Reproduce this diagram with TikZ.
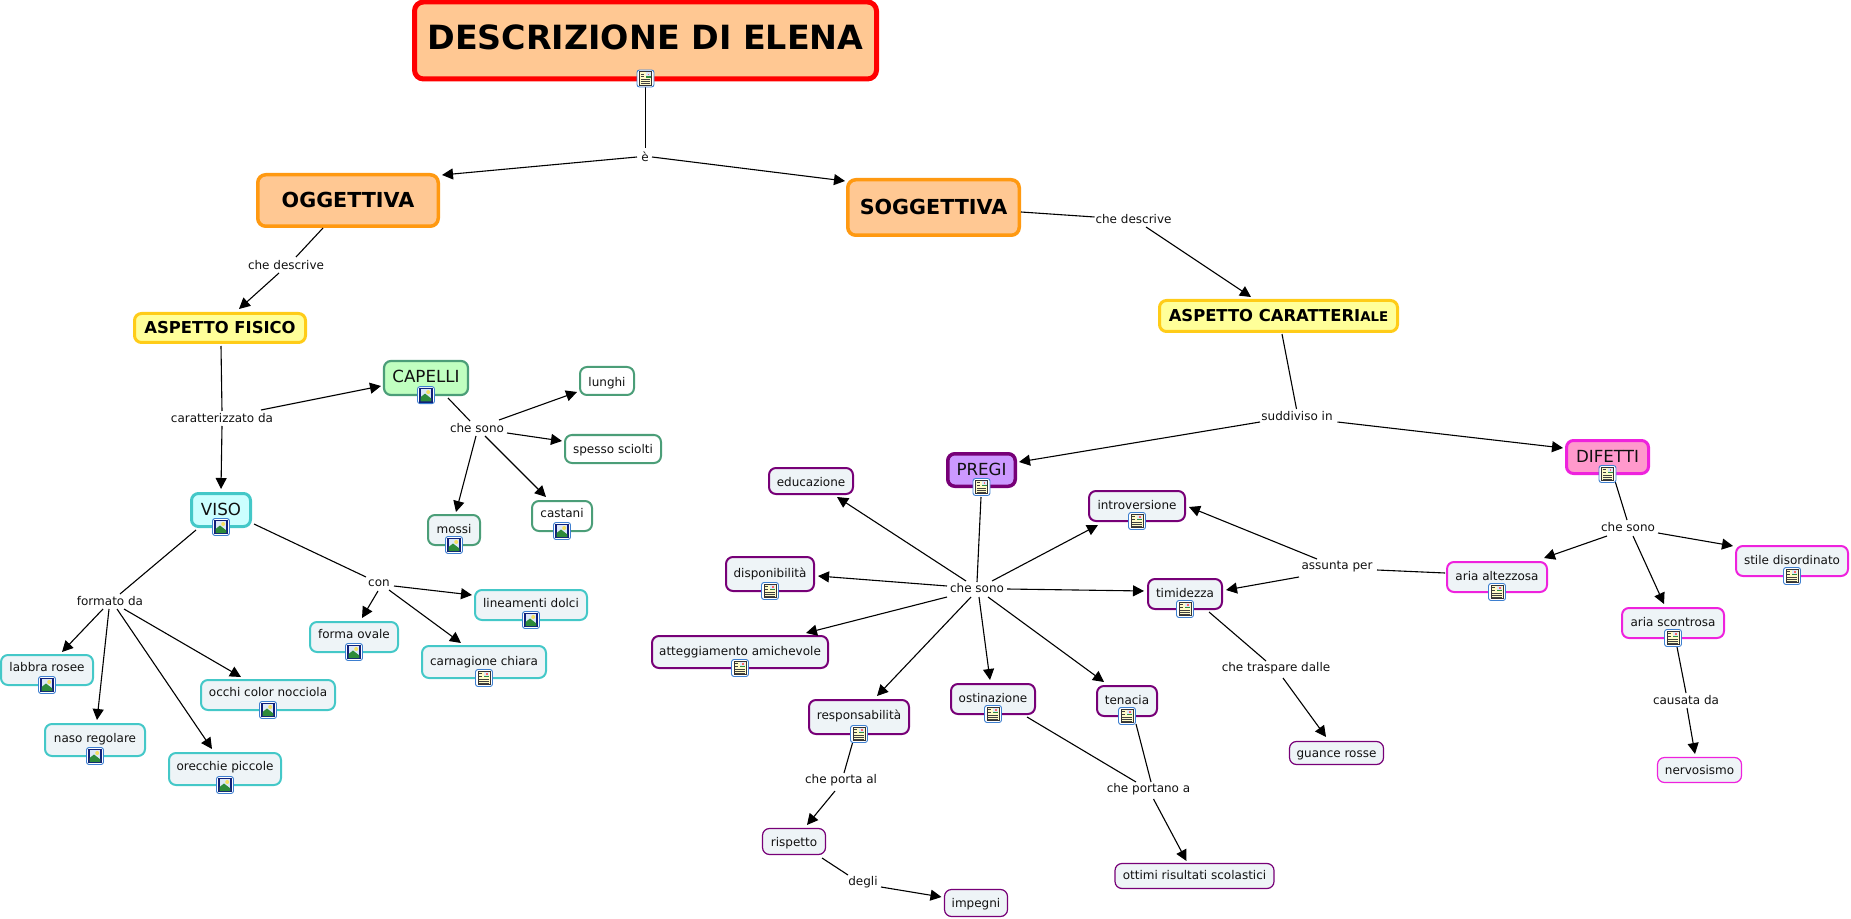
\documentclass[tikz,border=0pt]{standalone}
\usepackage{fontspec}
\setmainfont{DejaVu Sans}
\usetikzlibrary{arrows.meta}
\newdimen\px \px=.75pt
\definecolor{txt}{HTML}{111111}
\definecolor{peach}{HTML}{FFC893}
\definecolor{orng}{HTML}{FF9911}
\definecolor{yfill}{HTML}{FFFF99}
\definecolor{ystr}{HTML}{FFCC18}
\definecolor{gfill}{HTML}{C0FFC0}
\definecolor{gstr}{HTML}{4B9E78}
\definecolor{cfill}{HTML}{CCFFFF}
\definecolor{cstr}{HTML}{44C8C8}
\definecolor{lfill}{HTML}{EEF4F7}
\definecolor{pfill}{HTML}{CC99FF}
\definecolor{pstr}{HTML}{770077}
\definecolor{mfill}{HTML}{FF99CC}
\definecolor{mstr}{HTML}{EE22DD}
\definecolor{iconblue}{HTML}{3D7FD0}
\definecolor{iconnavy}{HTML}{10207A}
\definecolor{iconsky}{HTML}{DCE8F8}
\definecolor{icongreen}{HTML}{2E8B3A}
\definecolor{iconsun}{HTML}{F4E060}
\definecolor{iconpaper}{HTML}{FFFBC8}
\tikzset{
  x=.75pt,y=-.75pt,
  box/.style={draw,rounded corners=7\px,inner sep=0pt,align=center,text=txt,
     font=\fontsize{9}{11}\selectfont,text height=9\px,text depth=3\px},
  raisea/.style={text depth=6\px},
  raiseb/.style={text depth=4.5\px},
  lowera/.style={text height=11\px,text depth=2\px},
  lowerb/.style={text height=12\px,text depth=1\px},
  tbox/.style={box,font=\fontsize{12.5}{14}\selectfont,text height=13\px,text depth=3\px},
  lbl/.style={inner sep=0pt,text=txt,font=\fontsize{9}{11}\selectfont},
  titlebox/.style={box,fill=peach,draw=red,line width=5\px,rounded corners=9\px,text=black,
     font=\fontsize{25}{30}\bfseries\selectfont,text height=18\px,text depth=0\px},
  mainbox/.style={box,fill=peach,draw=orng,line width=3.5\px,rounded corners=8\px,text=black,
     font=\fontsize{15.5}{18}\bfseries\selectfont,text height=14\px,text depth=0\px},
  aspect/.style={box,fill=yfill,draw=ystr,line width=3\px,text=black,
     font=\fontsize{12.3}{14}\bfseries\selectfont,text height=11\px,text depth=0\px},
  link/.style={line width=1.1\px,black},
  arr/.style={link,-{Triangle[length=8.25pt,width=8.25pt]}},
  imgicon/.pic={
    \draw[iconblue,fill=white,line width=.9\px,rounded corners=2.5\px] (-8.5,-8.5) rectangle (8.5,8.5);
    \draw[iconnavy,fill=iconsky,line width=1.3\px] (-6,-6.8) rectangle (6,6.8);
    \fill[icongreen] (-5.4,6.2) -- (-5.4,2) -- (-1,-1.5) -- (5.4,3.5) -- (5.4,6.2) -- cycle;
    \fill[iconsun] (2.2,-3) circle (2\px);
  },
  docicon/.pic={
    \draw[iconblue,fill=white,line width=.9\px,rounded corners=2.5\px] (-8.5,-8.5) rectangle (8.5,8.5);
    \draw[black!80,fill=iconpaper,line width=.8\px] (-6,-6.8) rectangle (6,6.8);
    \fill[iconsky] (.4,-6) rectangle (5.3,-.6);
    \fill[icongreen] (.4,-2) rectangle (5.3,-.6);
    \fill[red!60!white] (2.2,-4.8) rectangle (3.8,-3.2);
    \draw[black!75,line width=.55\px] (-4.6,-4.4) -- (-1.6,-4.4) (-4.6,-2.2) -- (-1.6,-2.2)
       (-4.6,1) -- (4.8,1) (-4.6,3) -- (4.8,3) (-4.6,5) -- (4.8,5);
  }
}
% box: name, style, cx, cy, w, h, text
\newcommand{\bx}[7]{\node[#2,minimum width=#5\px,minimum height=#6\px] (#1) at (#3,#4) {#7};}
\newcommand{\lb}[4]{\node[lbl] (#1) at (#2,#3) {#4};}
\newcommand{\lk}[6]{\draw[link] ([shift={(#2,#3)}]#1.center) -- ([shift={(#5,#6)}]#4.center);}
\newcommand{\ar}[6]{\draw[arr] ([shift={(#2,#3)}]#1.center) -- ([shift={(#5,#6)}]#4.center);}
\newcommand{\im}[1]{\pic at ([yshift=1\px]#1.south) {imgicon};}
\newcommand{\dc}[1]{\pic at ([yshift=1\px]#1.south) {docicon};}
\begin{document}
\begin{tikzpicture}
\useasboundingbox (0,0) rectangle (1851,919);
\tikzset{
 capw/.style={box,draw=gstr,line width=2\px,fill=white},
 capb/.style={capw,fill=lfill},
 vis/.style={box,draw=cstr,line width=2\px,fill=lfill},
 prg/.style={box,draw=pstr,line width=2\px,fill=lfill},
 prt/.style={box,draw=pstr,line width=1.2\px,fill=lfill},
 dft/.style={box,draw=mstr,line width=2\px,fill=lfill},
 dfn/.style={box,draw=mstr,line width=1.2\px,fill=lfill},
}
% concepts
\bx{title}{titlebox}{645.5}{40.5}{462}{77}{DESCRIZIONE DI ELENA}
\bx{ogg}{mainbox}{348}{200.5}{180.5}{51.5}{OGGETTIVA}
\bx{sog}{mainbox}{933.5}{207.5}{171.5}{55.5}{SOGGETTIVA}
\bx{fis}{aspect}{220}{328}{171}{29}{ASPETTO FISICO}
\bx{car}{aspect}{1278.5}{316}{238}{31}{ASPETTO CARATTERI{\fontsize{10}{12}\bfseries\selectfont ALE}}
\bx{cap}{tbox,draw=gstr,fill=gfill,line width=2.2\px}{426}{378}{84}{34}{CAPELLI}
\bx{viso}{tbox,draw=cstr,fill=cfill,line width=3\px}{221}{510}{59}{33}{VISO}
\bx{pre}{tbox,draw=pstr,fill=pfill,line width=3.5\px}{981.5}{470}{67.5}{32.5}{PREGI}
\bx{dif}{tbox,draw=mstr,fill=mfill,line width=3\px}{1607.5}{457}{82}{33}{DIFETTI}
\bx{lun}{capw,lowerb}{607}{381}{54}{28}{lunghi}
\bx{spe}{capw,lowera}{613}{449}{96}{28}{spesso sciolti}
\bx{mos}{capb}{454}{530}{52}{30}{mossi}
\bx{cas}{capw,raisea}{562}{516}{60}{30}{castani}
\bx{lin}{vis,raiseb}{531}{605}{112}{30}{lineamenti dolci}
\bx{crn}{vis}{484}{662}{124}{32}{carnagione chiara}
\bx{frm}{vis,raisea}{354}{637}{88}{30}{forma ovale}
\bx{lab}{vis,raisea}{47}{670}{92}{30}{labbra rosee}
\bx{nas}{vis,raiseb}{95}{740}{100}{32}{naso regolare}
\bx{occ}{vis,raisea}{268}{695}{134}{30}{occhi color nocciola}
\bx{ore}{vis,raisea}{225}{769}{112}{32}{orecchie piccole}
\bx{edu}{prg,lowerb}{811}{481}{84}{26}{educazione}
\bx{dis}{prg}{770}{574}{88}{34}{disponibilità}
\bx{att}{prg}{740}{652}{176}{32}{atteggiamento amichevole}
\bx{res}{prg,raiseb}{859}{717}{100}{34}{responsabilità}
\bx{ost}{prg}{993}{699}{84}{30}{ostinazione}
\bx{int}{prg}{1137}{506}{96}{30}{introversione}
\bx{tim}{prg}{1185}{594}{74}{30}{timidezza}
\bx{ten}{prg}{1127}{701}{60}{30}{tenacia}
\bx{gua}{prt,lowera}{1336.5}{753}{94}{23}{guance rosse}
\bx{ris}{prt,lowera}{794}{841.5}{63}{26}{rispetto}
\bx{imp}{prt,lowera}{976}{903}{63}{27}{impegni}
\bx{ott}{prt}{1194.5}{876}{159}{25}{ottimi risultati scolastici}
\bx{alt}{dft}{1497}{577}{100}{30}{aria altezzosa}
\bx{sco}{dft}{1673}{623}{102}{30}{aria scontrosa}
\bx{sti}{dft}{1792}{561}{112}{30}{stile disordinato}
\bx{ner}{dfn,lowera}{1699.5}{770}{84}{25}{nervosismo}
% linking phrases
\lb{le}{645}{157}{è}
\lb{ld1}{286}{265}{che descrive}
\lb{lc}{222}{418}{caratterizzato da}
\lb{ls1}{477}{428}{che sono}
\lb{lf}{110}{601}{formato da}
\lb{lcon}{379}{583}{con}
\lb{ld2}{1133.5}{219}{che descrive}
\lb{lsd}{1297}{416}{suddiviso in}
\lb{ls2}{977}{588}{che sono}
\lb{las}{1337}{567}{assunta per}
\lb{ltr}{1276}{668}{che traspare dalle}
\lb{ls3}{1628}{527}{che sono}
\lb{lca}{1686}{700}{causata da}
\lb{lpo}{841}{780}{che porta al}
\lb{lpa}{1148.5}{789}{che portano a}
\lb{lde}{863}{882}{degli}
% connectors
\lk{title}{0}{45.5}{le}{0.5}{-9}
\ar{le}{-8}{0}{ogg}{94}{-25.5}
\ar{le}{7}{0}{sog}{-88.5}{-26.5}
\lk{ogg}{-25}{27.5}{ld1}{10}{-8}
\ar{ld1}{-7}{8}{fis}{19}{-19}
\lk{fis}{1}{18}{lc}{0}{-7}
\ar{lc}{0}{8}{viso}{0}{-21}
\ar{lc}{39}{-8}{cap}{-45}{8}
\lk{cap}{22}{20}{ls1}{-7}{-7}
\ar{ls1}{22}{-8}{lun}{-30}{11}
\ar{ls1}{30}{5}{spe}{-51}{-8}
\ar{ls1}{-1}{8}{mos}{2}{-18}
\ar{ls1}{8}{8}{cas}{-16}{-19}
\lk{viso}{-25}{20}{lf}{10}{-7}
\lk{viso}{33}{14}{lcon}{-13}{-6}
\ar{lf}{-7}{8}{lab}{15}{-18}
\ar{lf}{-1}{8}{nas}{2}{-20}
\ar{lf}{7}{8}{ore}{-13}{-20}
\ar{lf}{14}{8}{occ}{-27}{-18}
\ar{lcon}{-1}{8}{frm}{8}{-19}
\ar{lcon}{15}{3}{lin}{-59}{-10}
\ar{lcon}{10}{7}{crn}{-23}{-19}
\lk{sog}{87.5}{4.5}{ld2}{-39}{-2}
\ar{ld2}{12.5}{8}{car}{-27.5}{-19}
\lk{car}{3.5}{18}{lsd}{-0.5}{-7}
\ar{lsd}{-37}{6}{pre}{37.5}{-8}
\ar{lsd}{40.5}{6}{dif}{-44.5}{-9}
\lk{pre}{-0.5}{27}{ls2}{0}{-6}
\ar{ls2}{-11}{-7}{edu}{26}{16}
\ar{ls2}{-30}{-2}{dis}{48}{2}
\ar{ls2}{-30}{9}{att}{66}{-19}
\ar{ls2}{-6}{9}{res}{18}{-21}
\ar{ls2}{2}{9}{ost}{-3}{-19}
\ar{ls2}{11}{9}{ten}{-23}{-19}
\ar{ls2}{15}{-7}{int}{-39}{19}
\ar{ls2}{30}{1}{tim}{-41}{-3}
\lk{alt}{-52}{-4}{las}{40}{3}
\ar{las}{-20}{-8}{int}{52}{1}
\ar{las}{-38}{10}{tim}{41}{-4}
\lk{tim}{24}{18}{ltr}{-10}{-7}
\ar{ltr}{7}{10}{gua}{-10.5}{-16}
\lk{dif}{7.5}{24}{ls3}{-1}{-7}
\ar{ls3}{-21}{9}{alt}{47}{-19}
\ar{ls3}{30}{6}{sti}{-59}{-15}
\ar{ls3}{5}{9}{sco}{-9}{-19}
\lk{sco}{4}{24}{lca}{0}{-7}
\ar{lca}{1}{8}{ner}{-4.5}{-16}
\lk{res}{-6.5}{26}{lpo}{3}{-7}
\ar{lpo}{-6}{11}{ris}{13}{-16.5}
\lk{ris}{28}{16.5}{lde}{-15}{-7}
\ar{lde}{18}{5}{imp}{-34.5}{-6}
\lk{ost}{34}{18}{lpa}{-12.5}{-7}
\lk{ten}{9}{23}{lpa}{2.5}{-7}
\ar{lpa}{5}{10}{ott}{-8}{-15}
% icons
\pic at ([yshift=3\px]title.south) {docicon};
\im{cap}\im{viso}\dc{pre}\dc{dif}
\im{mos}\im{cas}\im{lin}\dc{crn}\im{frm}\im{lab}\im{nas}\im{occ}\im{ore}
\dc{dis}\dc{att}\dc{res}\dc{ost}\dc{int}\dc{tim}\dc{ten}
\dc{alt}\dc{sco}\dc{sti}
\end{tikzpicture}
\end{document}
